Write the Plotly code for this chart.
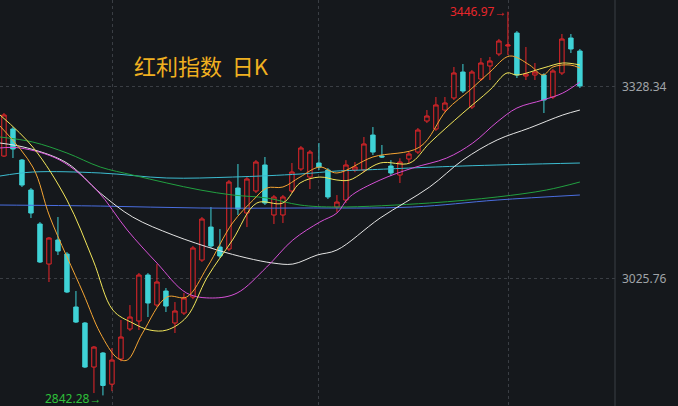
import plotly.graph_objects as go

# daily candles, index 0..64
opens = [3219.5, 3262.1, 3213.2, 3166.0, 3112.4, 3049.3, 3087.2, 3065.1, 2981.6, 2956.4,
         2887.0, 2909.1, 2860.0, 2899.6, 2946.9, 2959.5, 3032.0, 2984.7, 3006.8, 2956.4,
         2972.1, 2997.3, 3055.6, 3107.6, 3076.1, 3073.0, 3169.1, 3129.7, 3164.4, 3205.4,
         3126.6, 3126.6, 3164.4, 3199.1, 3186.4, 3208.5, 3197.5, 3139.2, 3150.2, 3197.5,
         3197.5, 3252.6, 3219.5, 3203.8, 3189.6, 3214.8, 3225.8, 3274.7, 3262.1, 3292.0,
         3311.0, 3351.9, 3296.8, 3340.9, 3361.4, 3380.3, 3392.9, 3413.4, 3345.6, 3347.2,
         3347.2, 3312.5, 3350.4, 3405.5, 3385.0]
highs = [3287.3, 3265.2, 3214.8, 3169.1, 3115.5, 3091.9, 3123.4, 3068.2, 3006.8, 2957.9,
         2920.1, 2910.6, 2917.0, 2961.1, 2984.7, 3035.2, 3035.0, 3049.3, 3011.5, 2989.4,
         3003.6, 3077.7, 3123.4, 3139.2, 3104.5, 3181.7, 3206.9, 3186.4, 3213.2, 3218.0,
         3158.1, 3158.1, 3208.5, 3235.3, 3229.0, 3240.0, 3200.6, 3158.0, 3213.0, 3210.0,
         3249.5, 3265.2, 3236.9, 3213.0, 3216.0, 3226.0, 3263.7, 3292.0, 3312.5, 3312.5,
         3359.8, 3364.5, 3355.0, 3374.0, 3375.6, 3404.0, 3446.97, 3416.5, 3391.3, 3366.1,
         3350.0, 3356.6, 3411.8, 3411.8, 3388.2]
lows = [3218.0, 3216.4, 3170.7, 3121.8, 3050.9, 3021.0, 3063.5, 3003.6, 2956.4, 2885.4,
        2846.0, 2842.28, 2849.0, 2896.0, 2943.7, 2945.3, 2965.8, 2981.6, 2973.7, 2940.6,
        2969.0, 2994.0, 3052.5, 3074.6, 3058.8, 3069.8, 3126.6, 3107.6, 3161.2, 3142.3,
        3112.4, 3114.0, 3161.2, 3196.0, 3167.5, 3197.5, 3151.8, 3131.0, 3145.5, 3194.0,
        3194.0, 3221.1, 3216.4, 3188.0, 3177.0, 3208.5, 3222.7, 3271.5, 3259.0, 3289.0,
        3307.8, 3318.8, 3293.6, 3337.8, 3339.3, 3377.0, 3378.7, 3342.5, 3339.3, 3339.3,
        3287.3, 3309.4, 3347.2, 3381.9, 3326.7]
closes = [3284.2, 3230.6, 3173.8, 3129.7, 3052.5, 3090.3, 3069.8, 3005.2, 2957.9, 2887.0,
          2918.5, 2858.0, 2898.0, 2934.3, 2965.8, 3032.0, 2987.9, 3021.0, 2983.1, 2975.3,
          2995.8, 3074.6, 3120.3, 3077.7, 3062.0, 3178.6, 3136.0, 3183.3, 3210.1, 3145.5,
          3155.0, 3155.0, 3194.3, 3232.2, 3225.8, 3202.2, 3155.0, 3147.0, 3205.4, 3202.2,
          3238.5, 3225.8, 3218.0, 3192.8, 3210.1, 3222.7, 3260.5, 3282.6, 3300.0, 3303.1,
          3350.4, 3322.0, 3351.9, 3366.1, 3369.3, 3400.8, 3394.5, 3347.2, 3348.8, 3351.9,
          3307.8, 3353.5, 3403.9, 3388.2, 3329.9]

# moving averages (x = candle index)
ma5_x = [-0.44, 3.2, 5.1, 8.8, 10.7, 12.6, 13.7, 15.4, 18.1, 20.3, 22.6, 25.4, 27.7, 29.2, 31.0,
         32.9, 35.1, 37.0, 41.0, 46.2, 49.2, 51.8, 54.0, 56.2, 58.4, 59.9, 61.0, 62.9, 64]
ma5_y = [3266.8, 3202.2, 3123.4, 3003.6, 2940.6, 2901.2, 2898.0, 2940.6, 2997.3, 2997.3, 3044.6,
         3114.0, 3150.2, 3169.1, 3170.7, 3186.4, 3202.2, 3192.8, 3218.0, 3233.7, 3292.0, 3323.6,
         3351.9, 3377.1, 3363.0, 3347.2, 3359.8, 3363.0, 3358.2]
ma10_x = [-0.44, 3.2, 7.0, 9.9, 12.1, 14.3, 16.2, 18.1, 20.3, 22.6, 25.4, 28.1, 31.0, 32.9, 35.1,
          37.0, 38.4, 41.8, 45.1, 47.3, 51.0, 54.0, 55.9, 57.0, 59.9, 62.1, 64]
ma10_y = [3284.2, 3233.7, 3150.2, 3055.6, 2976.8, 2956.4, 2945.3, 2945.3, 2965.8, 3028.8, 3087.2,
          3145.5, 3145.5, 3177.0, 3186.4, 3181.7, 3181.7, 3208.5, 3208.5, 3240.0, 3287.3, 3323.6,
          3350.4, 3347.2, 3358.2, 3366.1, 3363.0]
ma20_x = [-0.44, 1.8, 6.2, 10.3, 13.7, 17.0, 20.3, 23.2, 25.9, 29.2, 32.1, 35.1, 37.0, 38.4, 41.8,
          45.4, 49.2, 52.1, 54.8, 57.0, 59.9, 62.1, 64]
ma20_y = [3232.2, 3232.2, 3213.2, 3166.0, 3102.9, 3050.9, 3003.6, 2995.8, 3003.6, 3044.6, 3087.2,
          3115.5, 3129.7, 3155.0, 3181.7, 3200.6, 3216.4, 3240.0, 3273.1, 3295.2, 3307.8, 3318.8,
          3336.2]
ma30_x = [-0.44, 2.6, 7.0, 10.7, 14.3, 18.8, 23.7, 27.0, 29.9, 32.1, 34.8, 37.0, 41.8, 47.3, 51.0,
          54.8, 58.4, 62.1, 64]
ma30_y = [3240.0, 3232.2, 3208.5, 3161.2, 3123.4, 3095.0, 3071.4, 3058.8, 3050.9, 3049.3, 3063.5,
          3071.4, 3121.8, 3170.7, 3213.2, 3244.8, 3263.7, 3284.2, 3292.0]
ma60_x = [-0.44, 3.2, 7.0, 10.7, 14.3, 18.1, 21.8, 25.4, 29.2, 32.9, 37.0, 47.3, 54.8, 60.3, 64]
ma60_y = [3249.5, 3241.6, 3224.3, 3202.2, 3189.6, 3177.0, 3166.0, 3158.1, 3153.4, 3142.3, 3139.2,
          3145.5, 3155.0, 3166.0, 3178.6]
ma120_x = [-0.44, 3.2, 10.7, 18.1, 25.4, 32.9, 37.0, 39.9, 51.0, 64]
ma120_y = [3188.0, 3194.3, 3192.8, 3184.9, 3186.4, 3191.2, 3195.9, 3197.5, 3203.8, 3208.5]
ma250_x = [-0.44, 10.7, 21.8, 32.9, 45.4, 54.8, 64]
ma250_y = [3142.3, 3140.7, 3137.6, 3137.6, 3139.2, 3150.2, 3158.1]

price_ticks = [3328.34, 3025.76]
max_idx, max_val = 56, 3446.97
min_idx, min_val = 11, 2842.28

bg = "#15181c"
idx = list(range(len(opens)))

fig = go.Figure()
fig.add_trace(go.Candlestick(
    x=idx, open=opens, high=highs, low=lows, close=closes,
    increasing=dict(line=dict(color="#e8262a", width=1), fillcolor=bg),
    decreasing=dict(line=dict(color="#3fd2d6", width=1), fillcolor="#3fd2d6"),
    whiskerwidth=0, showlegend=False, hoverinfo="skip",
))

lines = [
    (ma250_x, ma250_y, "#4a6ee0"),
    (ma120_x, ma120_y, "#3cbcd0"),
    (ma60_x, ma60_y, "#21a040"),
    (ma30_x, ma30_y, "#e4e4e4"),
    (ma20_x, ma20_y, "#d650d6"),
    (ma10_x, ma10_y, "#f2e65a"),
    (ma5_x, ma5_y, "#f5a533"),
]
for xs, ys, c in lines:
    fig.add_trace(go.Scatter(x=xs, y=ys, mode="lines", line=dict(color=c, width=1, shape="spline"),
                             showlegend=False, hoverinfo="skip"))

fig.add_annotation(x=max_idx, y=max_val, text=f"{max_val:.2f}→", showarrow=False,
                   xanchor="right", yanchor="middle", font=dict(color="#e8262a", size=12))
fig.add_annotation(x=min_idx, y=min_val, text=f"{min_val:.2f}→", showarrow=False,
                   xanchor="right", yanchor="middle", yshift=-3, font=dict(color="#2fc03a", size=12))
fig.add_annotation(x=0.215, xref="paper", y=0.885, yref="paper", text="红利指数  日K", showarrow=False,
                   xanchor="left", font=dict(color="#f0b020", size=22, family="Noto Sans CJK SC"))

fig.add_shape(type="line", xref="paper", yref="paper", x0=1, x1=1, y0=0, y1=1,
              line=dict(color="#3a3e44", width=1))

fig.update_layout(
    width=678, height=406, margin=dict(l=0, r=63, t=0, b=0),
    paper_bgcolor=bg, plot_bgcolor=bg,
    font=dict(family="Noto Sans", color="#a0a4a8", size=12),
    xaxis=dict(range=[-0.44, 67.9], rangeslider=dict(visible=False), showticklabels=False,
               tickvals=[12.1, 35.0, 56.1], showgrid=True, gridcolor="#3a3e44", griddash="dot",
               zeroline=False),
    yaxis=dict(range=[2825.6, 3465.4], side="right", tickvals=price_ticks,
               ticktext=[f"{v:.2f}" for v in price_ticks], showgrid=True, gridcolor="#3a3e44",
               griddash="dot", zeroline=False, ticks="", ticklabelstandoff=6),
)

fig.write_html("out.html", config={"displayModeBar": False},
               post_script="document.body.style.margin='0';")
